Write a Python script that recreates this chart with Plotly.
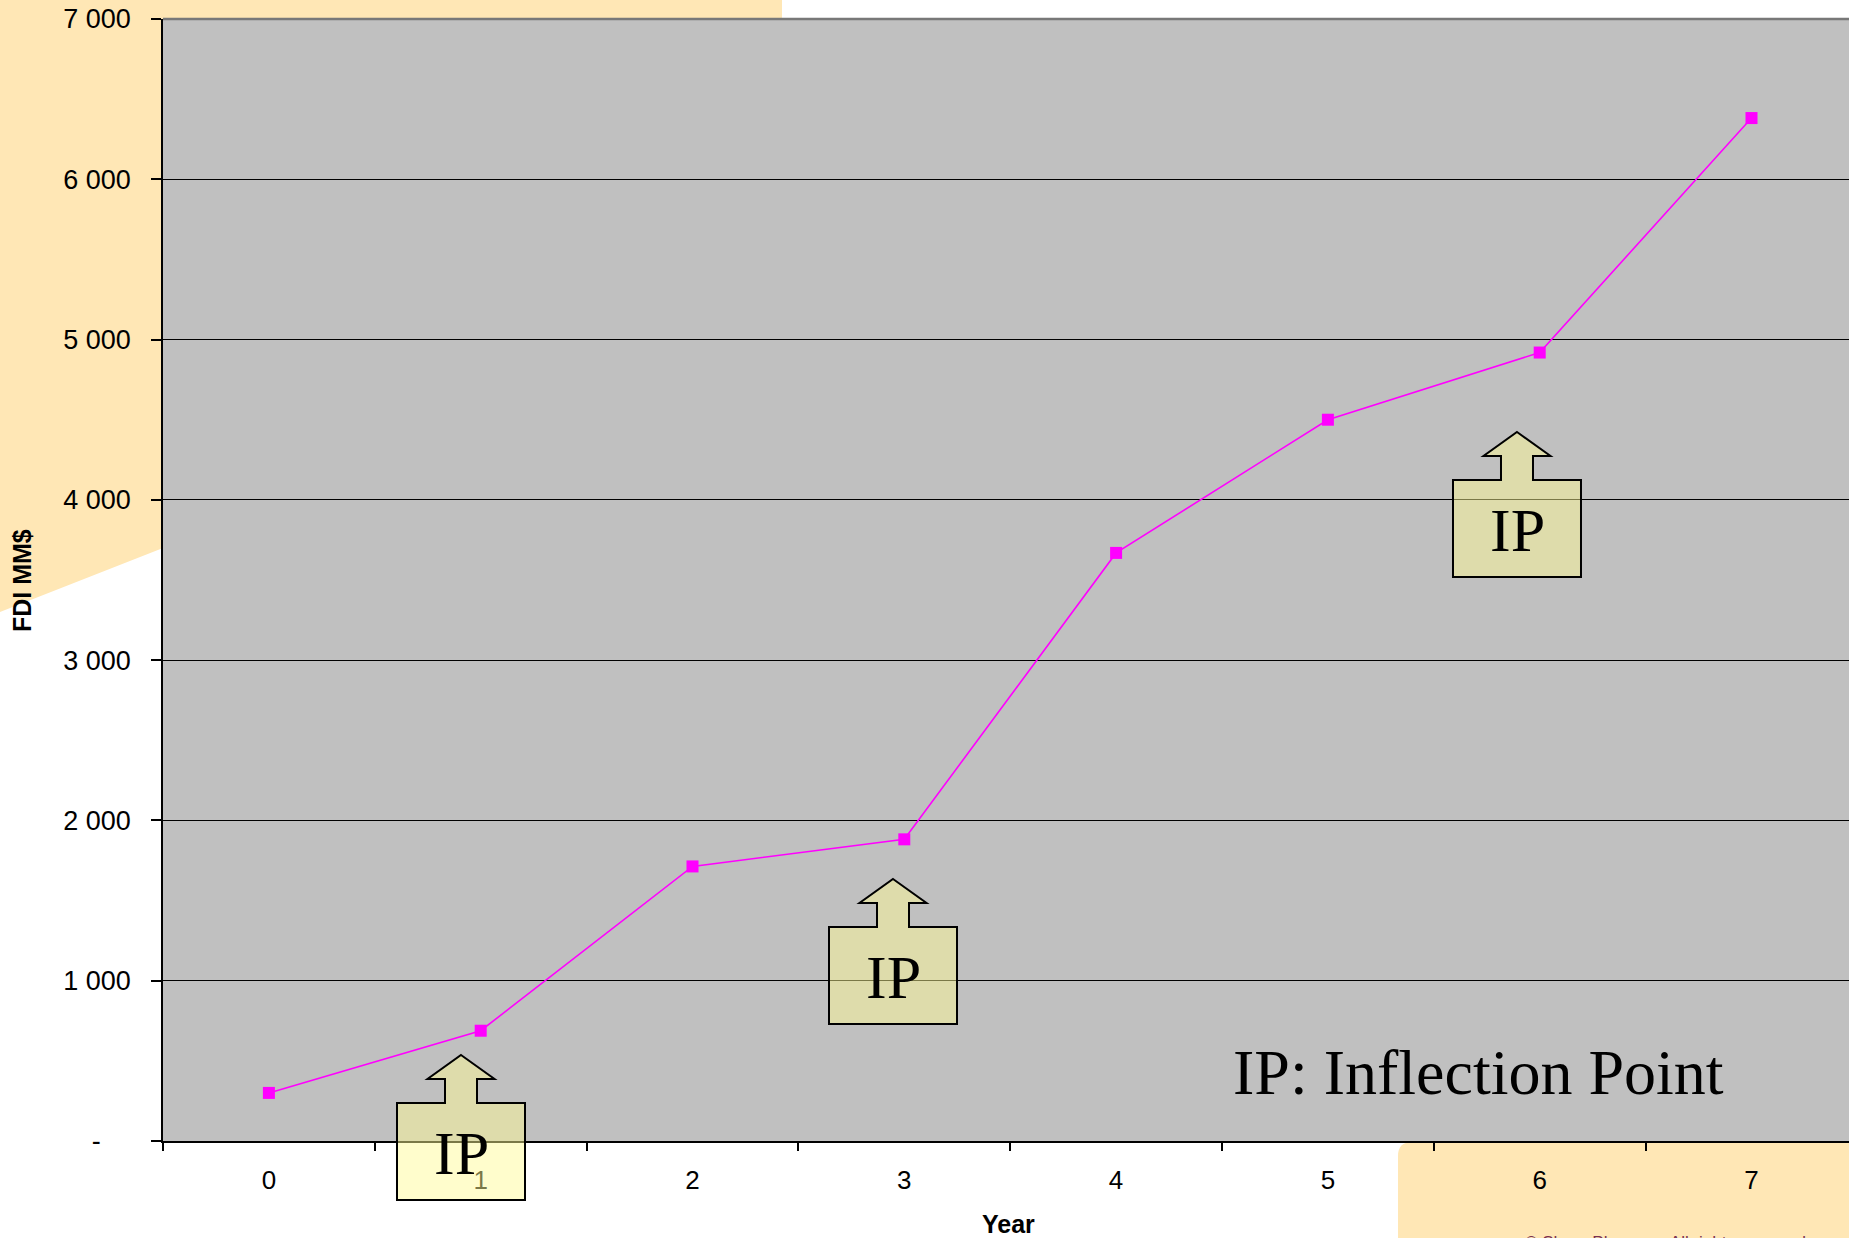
import plotly.graph_objects as go

# ---------------- data ----------------
years = ["0", "1", "2", "3", "4", "5", "6", "7"]
fdi_mm = [300, 688, 1713, 1882, 3669, 4500, 4919, 6382]
y_tickvals = [0, 1000, 2000, 3000, 4000, 5000, 6000, 7000]
y_ticktext = ["-\u00a0\u00a0\u00a0\u00a0", "1 000", "2 000", "3 000", "4 000", "5 000", "6 000", "7 000"]

# ---------------- layout geometry (pixels) ----------------
W, H = 1849, 1238
ML, MT, MR, MB = 163, 19, 0, 97
PW, PH = W - ML - MR, H - MT - MB


def px(x):
    return (x - ML) / PW


def py(y):
    return (H - MB - y) / PH


BEIGE = "#FFE7B5"
SANS = "Liberation Sans, Arial, sans-serif"
SERIF = "Liberation Serif, Times New Roman, serif"

fig = go.Figure()
fig.add_trace(go.Scatter(
    x=years, y=fdi_mm, mode="lines+markers",
    line=dict(color="#FF00FF", width=1.6),
    marker=dict(symbol="square", size=12, color="#FF00FF"),
    showlegend=False, hoverinfo="x+y",
))

shapes = []
# top-left beige decoration
pts = [(0, 0), (782, 0), (782, MT), (ML, MT), (ML, 548), (0, 612)]
path = "M " + " L ".join(f"{px(a):.5f},{py(b):.5f}" for a, b in pts) + " Z"
shapes.append(dict(type="path", xref="paper", yref="paper", path=path,
                   fillcolor=BEIGE, line=dict(width=0), layer="below"))
# bottom-right beige decoration with rounded corner
x0, y0, x1, y1, r = 1398, H - MB + 1, W + 5, H + 5, 14
path = (f"M {px(x0):.5f},{py(y1):.5f} L {px(x0):.5f},{py(y0 + r):.5f} "
        f"Q {px(x0):.5f},{py(y0):.5f} {px(x0 + r):.5f},{py(y0):.5f} "
        f"L {px(x1):.5f},{py(y0):.5f} L {px(x1):.5f},{py(y1):.5f} Z")
shapes.append(dict(type="path", xref="paper", yref="paper", path=path,
                   fillcolor=BEIGE, line=dict(width=0), layer="below"))
# gray top border of plot area
shapes.append(dict(type="line", xref="paper", yref="paper", x0=0, x1=1, y0=1, y1=1,
                   line=dict(color="#787878", width=2.5), layer="above"))

# IP callouts (center x, arrow tip y) in pixels
callouts = [(461, 1055), (893, 879), (1517, 432)]
annotations = []
for cx, ty in callouts:
    poly = [(cx, ty), (cx + 33.5, ty + 24), (cx + 16, ty + 24), (cx + 16, ty + 48),
            (cx + 64, ty + 48), (cx + 64, ty + 145), (cx - 64, ty + 145),
            (cx - 64, ty + 48), (cx - 16, ty + 48), (cx - 16, ty + 24),
            (cx - 33.5, ty + 24)]
    path = "M " + " L ".join(f"{px(a):.5f},{py(b):.5f}" for a, b in poly) + " Z"
    shapes.append(dict(type="path", xref="paper", yref="paper", path=path,
                       fillcolor="rgba(255,251,148,0.48)",
                       line=dict(color="black", width=2), layer="above"))
    annotations.append(dict(xref="paper", yref="paper", x=px(cx), y=py(ty + 48 + 50),
                            text="IP", showarrow=False, xanchor="center", yanchor="middle",
                            font=dict(family=SERIF, size=62, color="black")))

annotations += [
    dict(xref="paper", yref="paper", x=px(1231), y=py(1072), text="IP: Inflection Point",
         showarrow=False, xanchor="left", yanchor="middle",
         font=dict(family=SERIF, size=64, color="black")),
    dict(xref="paper", yref="paper", x=px(1008), y=py(1224), text="<b>Year</b>",
         showarrow=False, xanchor="center", yanchor="middle",
         font=dict(family=SANS, size=25, color="black")),
    dict(xref="paper", yref="paper", x=px(22), y=py(581), text="<b>FDI MM$</b>",
         showarrow=False, xanchor="center", yanchor="middle", textangle=-90,
         font=dict(family=SANS, size=25, color="black")),
    dict(xref="paper", yref="paper", x=px(1523), y=py(1231),
         text="© Sharp Pharma.   All rights reserved",
         showarrow=False, xanchor="left", yanchor="top",
         font=dict(family=SANS, size=17, color="#7A3050")),
]

fig.update_layout(
    width=W, height=H, autosize=False,
    margin=dict(l=ML, r=MR, t=MT, b=MB, pad=0),
    paper_bgcolor="white", plot_bgcolor="#C0C0C0",
    shapes=shapes, annotations=annotations,
    font=dict(family=SANS, size=26, color="black"),
)
fig.update_xaxes(
    type="category", categoryorder="array", categoryarray=years,
    range=[-0.5, -0.5 + PW / 211.8],
    tickson="boundaries", ticks="outside", ticklen=8, tickwidth=1.5, tickcolor="black",
    showline=True, linecolor="black", linewidth=1.5, showgrid=False, zeroline=False,
    tickfont=dict(family=SANS, size=26, color="black"), ticklabelstandoff=15,
)
fig.update_yaxes(
    range=[0, 7000], tickmode="array", tickvals=y_tickvals, ticktext=y_ticktext,
    ticks="outside", ticklen=10, tickwidth=1.5, tickcolor="black",
    showline=True, linecolor="black", linewidth=1.5,
    showgrid=True, gridcolor="black", gridwidth=1.3, zeroline=False,
    tickfont=dict(family=SANS, size=27, color="black"), ticklabelstandoff=15,
)

fig.write_html("out.html", config={"displayModeBar": False},
               post_script="document.body.style.margin='0';document.body.style.overflow='hidden';")
